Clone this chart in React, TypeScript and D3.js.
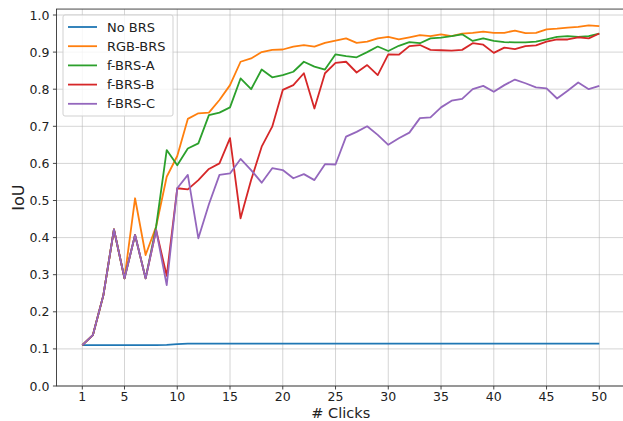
import React, { useEffect, useRef } from 'react';
import * as d3 from 'd3';

const clicks = d3.range(1, 51);

const noBrs = [0.11, 0.11, 0.11, 0.11, 0.11, 0.11, 0.11, 0.11, 0.111, 0.113,
  0.114, 0.114, 0.114, 0.114, 0.114, 0.114, 0.114, 0.114, 0.114, 0.114,
  0.114, 0.114, 0.114, 0.114, 0.114, 0.114, 0.114, 0.114, 0.114, 0.114,
  0.114, 0.114, 0.114, 0.114, 0.114, 0.114, 0.114, 0.114, 0.114, 0.114,
  0.114, 0.114, 0.114, 0.114, 0.114, 0.114, 0.114, 0.114, 0.114, 0.114];

const rgbBrs = [0.11, 0.137, 0.245, 0.422, 0.29, 0.506, 0.353, 0.43, 0.564, 0.62,
  0.72, 0.735, 0.737, 0.771, 0.811, 0.874, 0.883, 0.9, 0.906, 0.907,
  0.915, 0.919, 0.915, 0.925, 0.931, 0.937, 0.925, 0.928, 0.937, 0.941,
  0.934, 0.94, 0.946, 0.943, 0.948, 0.943, 0.95, 0.952, 0.955, 0.952,
  0.952, 0.958, 0.951, 0.952, 0.961, 0.963, 0.966, 0.968, 0.972, 0.97];

const fBrsA = [0.11, 0.137, 0.245, 0.422, 0.29, 0.407, 0.29, 0.43, 0.636, 0.595,
  0.64, 0.654, 0.73, 0.737, 0.751, 0.829, 0.8, 0.853, 0.832, 0.838,
  0.847, 0.874, 0.861, 0.853, 0.894, 0.889, 0.886, 0.9, 0.915, 0.903,
  0.917, 0.927, 0.924, 0.937, 0.939, 0.943, 0.948, 0.93, 0.937, 0.93,
  0.927, 0.926, 0.926, 0.928, 0.934, 0.941, 0.943, 0.941, 0.943, 0.95];

const fBrsB = [0.11, 0.137, 0.245, 0.422, 0.29, 0.407, 0.29, 0.42, 0.297, 0.533,
  0.53, 0.555, 0.585, 0.6, 0.668, 0.452, 0.555, 0.645, 0.699, 0.798,
  0.811, 0.843, 0.748, 0.843, 0.871, 0.874, 0.845, 0.865, 0.838, 0.894,
  0.893, 0.916, 0.919, 0.906, 0.905, 0.904, 0.906, 0.924, 0.92, 0.898,
  0.912, 0.908, 0.916, 0.918, 0.928, 0.934, 0.934, 0.94, 0.937, 0.95];

const fBrsC = [0.11, 0.137, 0.245, 0.422, 0.29, 0.407, 0.29, 0.42, 0.272, 0.533,
  0.569, 0.398, 0.49, 0.569, 0.573, 0.612, 0.582, 0.548, 0.587, 0.582,
  0.56, 0.571, 0.555, 0.598, 0.597, 0.672, 0.685, 0.7, 0.677, 0.65,
  0.668, 0.683, 0.722, 0.724, 0.751, 0.769, 0.774, 0.8, 0.809, 0.793,
  0.811, 0.826, 0.816, 0.805, 0.802, 0.775, 0.796, 0.818, 0.8, 0.809];

const seriesNames = ['No BRS', 'RGB-BRS', 'f-BRS-A', 'f-BRS-B', 'f-BRS-C'];
const seriesValues = [noBrs, rgbBrs, fBrsA, fBrsB, fBrsC];
const colors = ['#1f77b4', '#ff7f0e', '#2ca02c', '#d62728', '#9467bd'];

const xTicks = [1, 5, 10, 15, 20, 25, 30, 35, 40, 45, 50];
const yTicks = d3.range(0, 11).map((i) => i / 10);

const W = 623;
const H = 421;

export default function App() {
  const ref = useRef<SVGSVGElement>(null);

  useEffect(() => {
    const svg = d3.select(ref.current);
    svg.selectAll('*').remove();

    // matplotlib style: 5% margins on x, y from 0
    const x = d3.scaleLinear().domain([1, 50]).range([82.3, 599.3]);
    const left = x(1 - 49 * 0.05);
    const right = x(50 + 49 * 0.05);
    const y = d3.scaleLinear().domain([0, 1]).range([386, 15]);
    const top = y(1.016);
    const bottom = y(0);

    svg.append('rect').attr('width', W).attr('height', H).attr('fill', '#fff');

    const font = 'DejaVu Sans, sans-serif';

    // grid
    const grid = svg.append('g').attr('stroke', '#b0b0b0').attr('stroke-opacity', 0.6).attr('stroke-width', 0.9);
    xTicks.forEach((t) => {
      grid.append('line').attr('x1', x(t)).attr('x2', x(t)).attr('y1', top).attr('y2', bottom);
    });
    yTicks.forEach((t) => {
      grid.append('line').attr('x1', left).attr('x2', right).attr('y1', y(t)).attr('y2', y(t));
    });

    // lines
    const line = d3.line<number>()
      .x((_, i) => x(clicks[i]))
      .y((d) => y(d));

    seriesValues.forEach((vals, k) => {
      svg.append('path')
        .datum(vals)
        .attr('d', line)
        .attr('fill', 'none')
        .attr('stroke', colors[k])
        .attr('stroke-width', 1.8)
        .attr('stroke-linejoin', 'round');
    });

    // spines
    svg.append('rect')
      .attr('x', left).attr('y', top)
      .attr('width', right - left).attr('height', bottom - top)
      .attr('fill', 'none').attr('stroke', '#333').attr('stroke-width', 0.9);

    // ticks
    const tk = svg.append('g').attr('stroke', '#333').attr('stroke-width', 0.9);
    xTicks.forEach((t) => {
      tk.append('line').attr('x1', x(t)).attr('x2', x(t)).attr('y1', bottom).attr('y2', bottom + 3.5);
    });
    yTicks.forEach((t) => {
      tk.append('line').attr('x1', left - 3.5).attr('x2', left).attr('y1', y(t)).attr('y2', y(t));
    });

    svg.append('g').selectAll('text').data(xTicks).enter().append('text')
      .attr('x', (d) => x(d)).attr('y', bottom + 15)
      .attr('text-anchor', 'middle')
      .attr('font-family', font).attr('font-size', 12.5).attr('fill', '#222')
      .text((d) => d);

    svg.append('g').selectAll('text').data(yTicks).enter().append('text')
      .attr('x', left - 7).attr('y', (d) => y(d) + 4.5)
      .attr('text-anchor', 'end')
      .attr('font-family', font).attr('font-size', 12.5).attr('fill', '#222')
      .text((d) => d.toFixed(1));

    svg.append('text')
      .attr('x', (left + right) / 2).attr('y', 417.5)
      .attr('text-anchor', 'middle')
      .attr('font-family', font).attr('font-size', 14.5).attr('fill', '#222')
      .text('# Clicks');

    svg.append('text')
      .attr('transform', `translate(24,${(top + bottom) / 2}) rotate(-90)`)
      .attr('text-anchor', 'middle')
      .attr('font-family', font).attr('font-size', 16).attr('fill', '#222')
      .text('IoU');

    // legend
    const lg = svg.append('g').attr('transform', 'translate(63,15)');
    lg.append('rect')
      .attr('width', 110).attr('height', 101).attr('rx', 2)
      .attr('fill', '#fff').attr('fill-opacity', 0.8)
      .attr('stroke', '#ccc').attr('stroke-width', 0.9);
    seriesNames.forEach((name, k) => {
      const yy = 12 + k * 19.2;
      lg.append('line')
        .attr('x1', 5).attr('x2', 34).attr('y1', yy).attr('y2', yy)
        .attr('stroke', colors[k]).attr('stroke-width', 1.8);
      lg.append('text')
        .attr('x', 44).attr('y', yy + 4.6)
        .attr('font-family', font).attr('font-size', 13).attr('fill', '#222')
        .text(name);
    });
  }, []);

  return (
    <>
      <style>{'body{margin:0}'}</style>
      <svg ref={ref} width={W} height={H} style={{ display: 'block' }} />
    </>
  );
}
